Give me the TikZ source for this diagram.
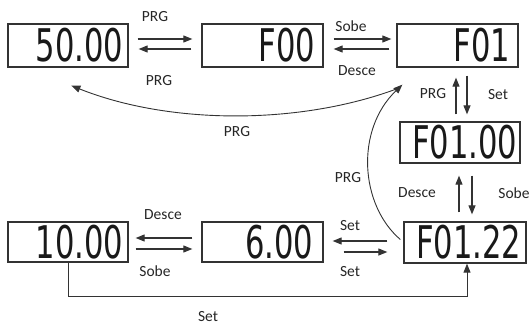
\documentclass[tikz,border=0pt]{standalone}
\usepackage{graphicx}
\usepackage{fontspec}
\usetikzlibrary{arrows.meta,calc}
\newfontfamily\lcdfont{DejaVu Sans}
\newfontfamily\labfont{Carlito}
\newcommand{\lcd}[1]{\scalebox{0.68}[1]{\lcdfont\fontsize{45}{45}\selectfont #1}}
\begin{document}
\begin{tikzpicture}[x=1pt,y=-1pt,
  box/.style={draw=black!80,line width=1.3pt,rectangle,inner sep=0pt,fill=white},
  digits/.style={inner sep=0pt,anchor=east,text=black!90},
  lbl/.style={font=\labfont\fontsize{15.5}{16}\selectfont,text=black!85,inner sep=0pt},
  arr/.style={draw=black!80,line width=1.1pt,-{Triangle[length=9pt,width=7pt]}},
  conn/.style={draw=black!80,line width=0.9pt}]
\useasboundingbox (0,0) rectangle (532,327);
% boxes
\node[box,minimum width=120pt,minimum height=43pt] (b50) at (68,45.5) {};
\node[box,minimum width=121pt,minimum height=43pt] (bF00) at (262.5,45.5) {};
\node[box,minimum width=121pt,minimum height=43pt] (bF01) at (457.5,45.5) {};
\node[box,minimum width=120pt,minimum height=41pt] (bF0100) at (460,142.5) {};
\node[box,minimum width=122pt,minimum height=41pt] (bF0122) at (465,242.5) {};
\node[box,minimum width=121pt,minimum height=40pt] (b600) at (262.5,242) {};
\node[box,minimum width=120pt,minimum height=40pt] (b1000) at (68,242) {};
% display texts
\node[digits] (t50) at ($(b50.east)+(-5,0)$) {\lcd{50.00}};
\node[digits] (tF00) at ($(bF00.east)+(-8,0)$) {\lcd{F00}};
\node[digits] (tF01) at ($(bF01.east)+(-8,0)$) {\lcd{F01}};
\node[digits] (tF0100) at ($(bF0100.east)+(-3,0)$) {\lcd{F01.00}};
\node[digits] (tF0122) at ($(bF0122.east)+(-5,0)$) {\lcd{F01.22}};
\node[digits] (t600) at ($(b600.east)+(-10,0)$) {\lcd{6.00}};
\node[digits] (t1000) at ($(b1000.east)+(-5,0)$) {\lcd{10.00}};
% top row arrows
\draw[arr] ($(b50.east)+(9,-6.5)$) -- ($(bF00.west)+(-9,-6.5)$);
\draw[arr] ($(bF00.west)+(-10,3.5)$) -- ($(b50.east)+(10,3.5)$);
\draw[arr] ($(bF00.east)+(10,-6.5)$) -- ($(bF01.west)+(-5,-6.5)$);
\draw[arr] ($(bF01.west)+(-7,3.5)$) -- ($(bF00.east)+(10,3.5)$);
% vertical arrows F01 <-> F01.00
\draw[arr] ($(bF0100.north)+(-4,-7)$) -- ($(bF01.south)+(-1.5,10)$);
\draw[arr] ($(bF01.south)+(9.5,8)$) -- ($(bF0100.north)+(7,-7)$);
% vertical arrows F01.00 <-> F01.22
\draw[arr] ($(bF0122.north)+(-6,-9)$) -- ($(bF0100.south)+(-1,12)$);
\draw[arr] ($(bF0100.south)+(12,12)$) -- ($(bF0122.north)+(7,-7)$);
% bottom row arrows
\draw[arr] ($(bF0122.west)+(-16,-1.5)$) -- ($(b600.east)+(9,-1)$);
\draw[arr] ($(b600.east)+(20,10)$) -- ($(bF0122.west)+(-16,9.5)$);
\draw[arr] ($(b600.west)+(-9,-4)$) -- ($(b1000.east)+(7,-4)$);
\draw[arr] ($(b1000.east)+(7,7)$) -- ($(b600.west)+(-9,7)$);
% Set loop from 10.00 to F01.22
\draw[arr,line width=0.9pt] (b1000.south) -- ++(0,34) -| ($(bF0122.south)+(2,0)$);
% curved PRG arrows
\coordinate (kF01) at ($(bF01.south west)+(1,21)$);
\coordinate (k50) at ($(b50.south west)+(64,18)$);
\draw[arr,line width=0.9pt] ($(bF0122.west)+(-3,-3)$) .. controls (360,205) and (355,130) .. ($(kF01)+(5,-4)$);
\draw[arr,line width=0.9pt] (kF01) .. controls (300,125) and (170,125) .. (k50);
% labels
\node[lbl] (l1) at (155,17) {PRG};
\node[lbl] (l2) at (159,81) {PRG};
\node[lbl] (l3) at (351,26) {Sobe};
\node[lbl] (l4) at (357,71) {Desce};
\node[lbl] (l5) at (433,94) {PRG};
\node[lbl] (l6) at (498,95) {Set};
\node[lbl] (l7) at (237,132) {PRG};
\node[lbl] (l8) at (348,178) {PRG};
\node[lbl] (l9) at (417,193) {Desce};
\node[lbl] (l10) at (514,193) {Sobe};
\node[lbl] (l11) at (350,226) {Set};
\node[lbl] (l12) at (350,272) {Set};
\node[lbl] (l13) at (163,215) {Desce};
\node[lbl] (l14) at (155,271) {Sobe};
\node[lbl] (l15) at (208,317) {Set};
\end{tikzpicture}
\end{document}
